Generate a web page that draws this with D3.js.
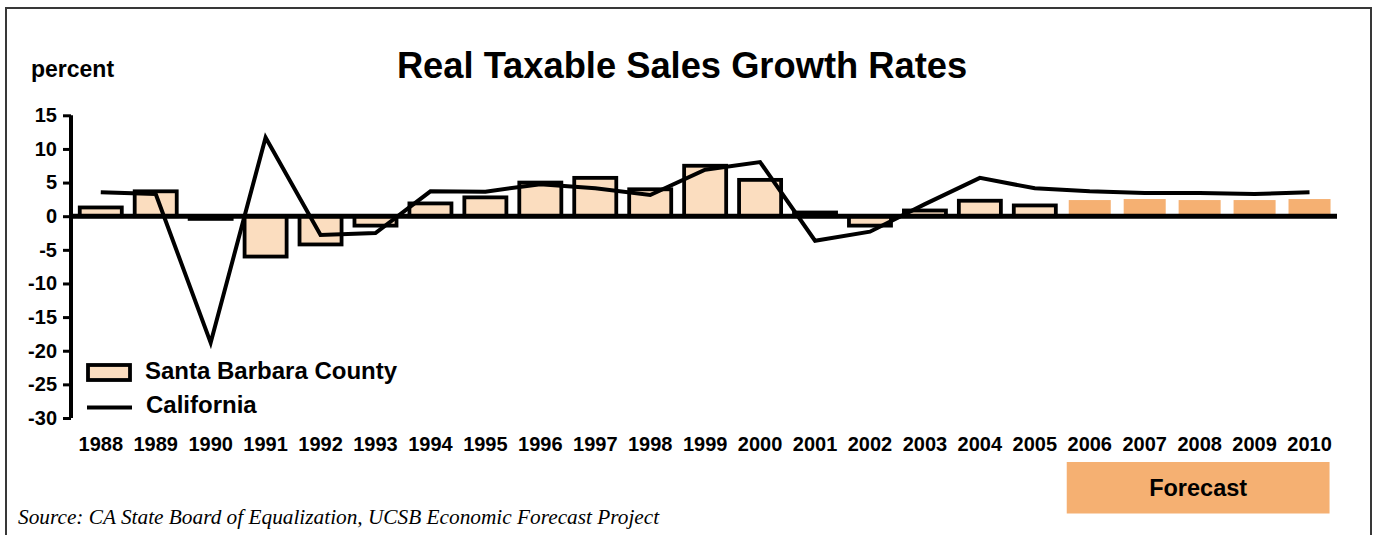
<!DOCTYPE html>
<html>
<head>
<meta charset="utf-8">
<script src="https://cdn.jsdelivr.net/npm/d3@7"></script>
<style>
  html, body { margin: 0; padding: 0; background: #fff; }
  svg { display: block; }
  text { font-family: "Liberation Sans", Arial, sans-serif; font-weight: bold; fill: #000; }
</style>
</head>
<body>
<svg id="chart" width="1377" height="535"></svg>
<script>
// Annual real taxable sales growth, percent
const years = ["1988","1989","1990","1991","1992","1993","1994","1995","1996","1997","1998","1999",
               "2000","2001","2002","2003","2004","2005","2006","2007","2008","2009","2010"];
const santaBarbara = [1.3, 3.7, -0.4, -6.0, -4.2, -1.4, 1.9, 2.8, 5.0, 5.7, 4.0, 7.5,
                      5.4, 0.55, -1.4, 0.85, 2.3, 1.6, 2.4, 2.55, 2.4, 2.4, 2.55];
const california   = [3.55, 3.3, -18.8, 11.7, -2.8, -2.5, 3.7, 3.65, 4.75, 4.15, 3.15, 6.9,
                      8.05, -3.65, -2.3, 1.8, 5.7, 4.15, 3.7, 3.45, 3.45, 3.3, 3.55];
const forecastFrom = "2006";
const yTicks = [15, 10, 5, 0, -5, -10, -15, -20, -25, -30];

const svg = d3.select("#chart");

// outer frame
svg.append("rect")
  .attr("x", 6).attr("y", 8).attr("width", 1365).attr("height", 560)
  .attr("fill", "none").attr("stroke", "#383838").attr("stroke-width", 2);

const x = d3.scaleBand().domain(years).range([73.3, 1337]).paddingInner(0.235).paddingOuter(0.1175);
const y = d3.scaleLinear().domain([-30, 15]).range([418, 115.3]);

// title and unit label
svg.append("text").attr("x", 682).attr("y", 78).attr("text-anchor", "middle")
  .style("font-size", "36.3px").text("Real Taxable Sales Growth Rates");
svg.append("text").attr("x", 31).attr("y", 77).style("font-size", "23px").text("percent");

// bars
const isForecast = d => +d >= +forecastFrom;
svg.append("g").selectAll("rect")
  .data(years.map((yr, i) => ({ yr, v: santaBarbara[i] })))
  .join("rect")
  .attr("x", d => x(d.yr))
  .attr("width", x.bandwidth())
  .attr("y", d => y(Math.max(0, d.v)))
  .attr("height", d => Math.abs(y(d.v) - y(0)))
  .attr("fill", d => isForecast(d.yr) ? "#F5B072" : "#FBDDBF")
  .attr("stroke", d => isForecast(d.yr) ? "none" : "#000")
  .attr("stroke-width", 3.8);

// y axis (plain hyphen for negatives)
const yAxis = svg.append("g").attr("transform", "translate(71,0)")
  .call(d3.axisLeft(y).tickValues(yTicks).tickSize(8).tickPadding(6).tickFormat(d => String(d)));
yAxis.select(".domain").attr("stroke", "#000").attr("stroke-width", 4)
  .attr("d", `M0,${y(-30)}V${y(15)}`);
yAxis.selectAll(".tick line").attr("stroke", "#000").attr("stroke-width", 3);
yAxis.selectAll(".tick text").style("font-size", "20px")
  .style("font-family", "'Liberation Sans', Arial, sans-serif").style("font-weight", "bold")
  .attr("fill", "#000");

// zero line
svg.append("line")
  .attr("x1", 71).attr("x2", 1337).attr("y1", y(0)).attr("y2", y(0))
  .attr("stroke", "#000").attr("stroke-width", 5);

// California line
const line = d3.line().x((d, i) => x(years[i]) + x.bandwidth() / 2).y(d => y(d));
svg.append("path").datum(california)
  .attr("d", line).attr("fill", "none").attr("stroke", "#000")
  .attr("stroke-width", 4).attr("stroke-linejoin", "miter");

// category labels
const xAxis = svg.append("g").attr("transform", "translate(0,451)")
  .call(d3.axisBottom(x).tickSize(0).tickPadding(0));
xAxis.select(".domain").remove();
xAxis.selectAll(".tick text").attr("dy", 0).attr("y", 0).style("font-size", "20px")
  .style("font-family", "'Liberation Sans', Arial, sans-serif").style("font-weight", "bold")
  .attr("fill", "#000");

// legend
const lg = svg.append("g");
lg.append("rect").attr("x", 88).attr("y", 365).attr("width", 42).attr("height", 15)
  .attr("fill", "#FBDDBF").attr("stroke", "#000").attr("stroke-width", 3.8);
lg.append("text").attr("x", 145).attr("y", 379).style("font-size", "24px").text("Santa Barbara County");
lg.append("line").attr("x1", 87).attr("x2", 132).attr("y1", 407.5).attr("y2", 407.5)
  .attr("stroke", "#000").attr("stroke-width", 3.8);
lg.append("text").attr("x", 146).attr("y", 413).style("font-size", "24px").text("California");

// forecast marker
const fx0 = x(forecastFrom) - 2, fx1 = x(years[years.length - 1]) + x.bandwidth() - 1;
svg.append("rect").attr("x", fx0).attr("y", 462).attr("width", fx1 - fx0).attr("height", 51.5)
  .attr("fill", "#F5B072");
svg.append("text").attr("x", (fx0 + fx1) / 2).attr("y", 496).attr("text-anchor", "middle")
  .style("font-size", "23.5px").text("Forecast");

// source note
svg.append("text").attr("x", 18).attr("y", 524)
  .style("font-family", "'Liberation Serif', 'Times New Roman', serif")
  .style("font-weight", "normal").style("font-style", "italic").style("font-size", "21.3px")
  .attr("fill", "#111")
  .text("Source: CA State Board of Equalization, UCSB Economic Forecast Project");
</script>
</body>
</html>
